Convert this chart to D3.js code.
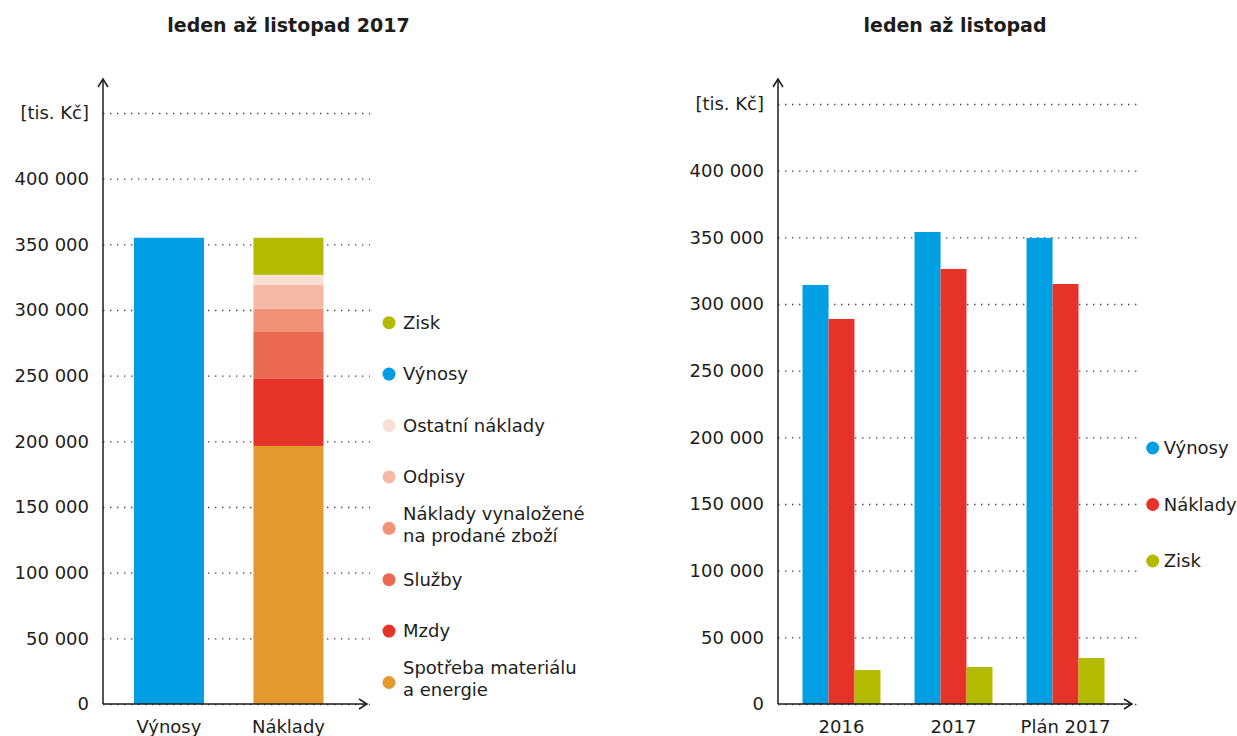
<!DOCTYPE html>
<meta charset="utf-8">
<style>

body {
  margin: 0;
  background: #fff;
}

text {
  font-family: "DejaVu Sans", sans-serif;
  fill: #1d1d1b;
}

.title {
  font-size: 19px;
  font-weight: bold;
}

.tick text, .label, .legend text {
  font-size: 18px;
}

.grid line {
  stroke: #444;
  stroke-width: 1.4;
  stroke-dasharray: 1.4 5.6;
}

.axis-line {
  stroke: #1d1d1b;
  stroke-width: 1.5;
  fill: none;
}

</style>
<body>
<script src="https://cdn.jsdelivr.net/npm/d3@7"></script>
<script>

// left chart: jan - nov 2017, revenue vs. stacked costs
var leftCats = ["Výnosy", "Náklady"];
var vynosy2017 = 355000;
var costParts = ["Spotřeba materiálu a energie", "Mzdy", "Služby",
    "Náklady vynaložené na prodané zboží", "Odpisy", "Ostatní náklady", "Zisk"];
var costValues = [196500, 51000, 35800, 17600, 18200, 7700, 28200];
var costColors = ["#e3992d", "#e6332a", "#eb6851", "#f19177", "#f6b9a5", "#fadfd5", "#b2bb00"];

// legend order of the left chart (top to bottom)
var leftLegend = ["Zisk", "Výnosy", "Ostatní náklady", "Odpisy",
    "Náklady vynaložené|na prodané zboží", "Služby", "Mzdy", "Spotřeba materiálu|a energie"];

// right chart: jan - nov comparison
var periods = ["2016", "2017", "Plán 2017"];
var series = ["Výnosy", "Náklady", "Zisk"];
var vynosyR = [314300, 354000, 349600];
var nakladyR = [288800, 326300, 315000];
var ziskR = [25500, 27800, 34500];
var seriesColors = ["#009fe3", "#e6332a", "#b2bb00"];

var yTicks = [0, 50000, 100000, 150000, 200000, 250000, 300000, 350000, 400000, 450000];

var width = 1237,
    height = 736;

var fmt = d3.formatLocale({ decimal: ",", thousands: " ", grouping: [3], currency: ["", " Kč"] }).format(",d");
function tickLabel(d) { return d === 450000 ? "[tis. Kč]" : fmt(d); }

var color = d3.scaleOrdinal()
    .domain(costParts.concat(["Výnosy"]))
    .range(costColors.concat(["#009fe3"]));

var svg = d3.select("body").append("svg")
    .attr("width", width)
    .attr("height", height);

function drawFrame(g, y, x0, x1) {
  // dotted grid
  g.append("g")
      .attr("class", "grid")
      .attr("transform", "translate(" + x0 + ",0)")
      .call(d3.axisLeft(y).tickValues(yTicks).tickSize(-(x1 - x0)).tickFormat(""))
      .call(function(s) { s.select(".domain").remove(); });

  // labels
  g.append("g")
      .attr("transform", "translate(" + x0 + ",0)")
      .call(d3.axisLeft(y).tickValues(yTicks).tickSize(0).tickPadding(14).tickFormat(tickLabel))
      .call(function(s) { s.select(".domain").remove(); s.selectAll(".tick text").attr("fill", "#1d1d1b"); });
}

function drawAxes(g, x0, yTop, y0, xEnd) {
  g.append("path").attr("class", "axis-line")
      .attr("d", "M" + x0 + "," + y0 + "V" + yTop);
  g.append("path").attr("class", "axis-line")
      .attr("d", "M" + (x0 - 5) + "," + (yTop + 8) + "L" + x0 + "," + yTop + "L" + (x0 + 5) + "," + (yTop + 8));
  g.append("path").attr("class", "axis-line")
      .attr("d", "M" + x0 + "," + y0 + "H" + xEnd);
  g.append("path").attr("class", "axis-line")
      .attr("d", "M" + (xEnd - 8) + "," + (y0 - 5) + "L" + xEnd + "," + y0 + "L" + (xEnd - 8) + "," + (y0 + 5));
}

// ---------- LEFT ----------
var left = svg.append("g");

var yL = d3.scaleLinear().domain([0, 450000]).range([704, 113]);
var xL = d3.scaleBand().domain(leftCats).range([110, 347.4]).paddingInner(0.414).paddingOuter(0.2);

left.append("text").attr("class", "title")
    .attr("x", 288.5).attr("y", 32).attr("text-anchor", "middle")
    .text("leden až listopad 2017");

drawFrame(left, yL, 103, 370);

// stacked costs
var stackRow = {};
costParts.forEach(function(k, i) { stackRow[k] = costValues[i]; });
var stacked = d3.stack().keys(costParts)([stackRow]);

left.append("rect")
    .attr("x", xL("Výnosy"))
    .attr("width", xL.bandwidth())
    .attr("y", yL(vynosy2017))
    .attr("height", yL(0) - yL(vynosy2017))
    .attr("fill", color("Výnosy"));

left.selectAll(".seg")
    .data(stacked)
  .enter().append("rect")
    .attr("class", "seg")
    .attr("x", xL("Náklady"))
    .attr("width", xL.bandwidth())
    .attr("y", function(d) { return yL(d[0][1]); })
    .attr("height", function(d) { return yL(d[0][0]) - yL(d[0][1]); })
    .attr("fill", function(d) { return color(d.key); });

left.selectAll(".label")
    .data(leftCats)
  .enter().append("text")
    .attr("class", "label")
    .attr("x", function(d) { return xL(d) + xL.bandwidth() / 2; })
    .attr("y", 733)
    .attr("text-anchor", "middle")
    .text(function(d) { return d; });

drawAxes(left, 103, 79, 704, 367);

// left legend
var legL = left.append("g").attr("class", "legend");
var itemL = legL.selectAll("g")
    .data(leftLegend)
  .enter().append("g")
    .attr("transform", function(d, i) { return "translate(389," + (322.7 + i * 51.4) + ")"; });

itemL.append("circle")
    .attr("r", 6.5)
    .attr("fill", function(d) { return color(d.replace("|", " ")); });

itemL.each(function(d) {
  var lines = d.split("|");
  var t = d3.select(this).append("text").attr("x", 14);
  lines.forEach(function(l, j) {
    t.append("tspan")
        .attr("x", 14)
        .attr("y", lines.length > 1 ? (j === 0 ? -14.5 : 7.5) : 0)
        .attr("dy", "0.35em")
        .text(l);
  });
});

// ---------- RIGHT ----------
var right = svg.append("g");

var yR = d3.scaleLinear().domain([0, 450000]).range([704, 104]);
var x0R = d3.scaleBand().domain(periods).range([780.1, 1126.9]).paddingInner(0.304).paddingOuter(0.2);
var x1R = d3.scaleBand().domain(series).range([0, x0R.bandwidth()]);
var colorR = d3.scaleOrdinal().domain(series).range(seriesColors);

right.append("text").attr("class", "title")
    .attr("x", 955).attr("y", 32).attr("text-anchor", "middle")
    .text("leden až listopad");

drawFrame(right, yR, 778, 1137);

var rows = periods.map(function(p, i) {
  return { period: p, values: [vynosyR[i], nakladyR[i], ziskR[i]] };
});

var grp = right.selectAll(".grp")
    .data(rows)
  .enter().append("g")
    .attr("class", "grp")
    .attr("transform", function(d) { return "translate(" + x0R(d.period) + ",0)"; });

grp.selectAll("rect")
    .data(function(d) { return d.values.map(function(v, i) { return { key: series[i], value: v }; }); })
  .enter().append("rect")
    .attr("x", function(d) { return x1R(d.key); })
    .attr("width", x1R.bandwidth())
    .attr("y", function(d) { return yR(d.value); })
    .attr("height", function(d) { return yR(0) - yR(d.value); })
    .attr("fill", function(d) { return colorR(d.key); });

right.selectAll(".label")
    .data(periods)
  .enter().append("text")
    .attr("class", "label")
    .attr("x", function(d) { return x0R(d) + x0R.bandwidth() / 2; })
    .attr("y", 733)
    .attr("text-anchor", "middle")
    .text(function(d) { return d; });

drawAxes(right, 778, 79, 704, 1132);

var legR = right.append("g").attr("class", "legend");
var itemR = legR.selectAll("g")
    .data(series)
  .enter().append("g")
    .attr("transform", function(d, i) { return "translate(1152.7," + (448 + i * 56.5) + ")"; });

itemR.append("circle")
    .attr("r", 6.5)
    .attr("fill", function(d) { return colorR(d); });

itemR.append("text")
    .attr("x", 11)
    .attr("dy", "0.35em")
    .text(function(d) { return d; });

</script>
